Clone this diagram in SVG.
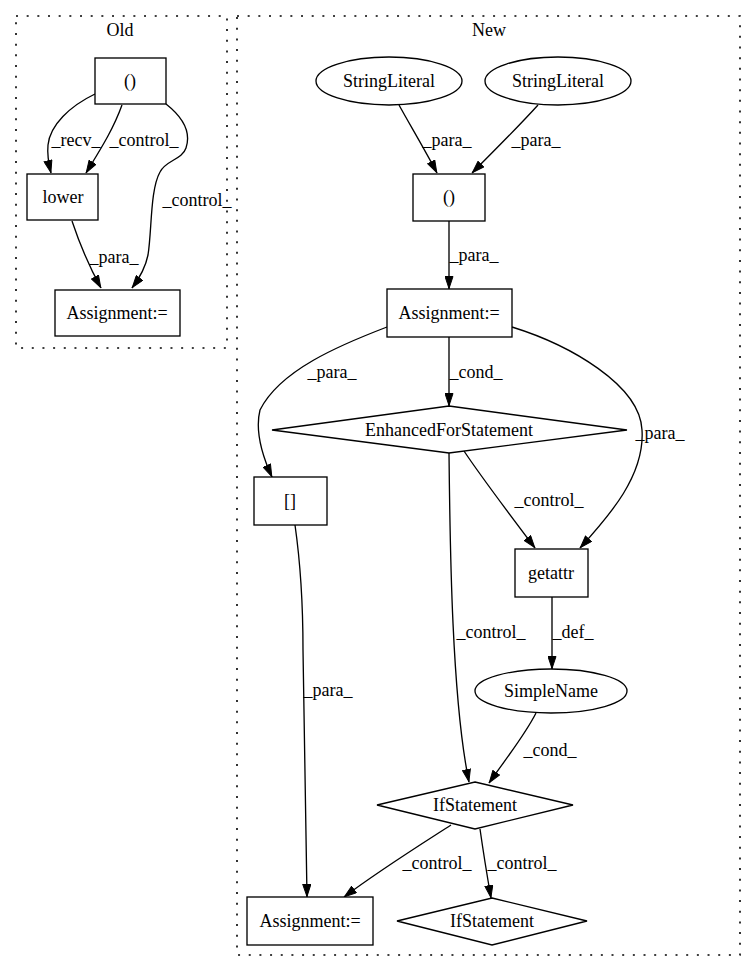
<svg xmlns="http://www.w3.org/2000/svg" width="748" height="972" viewBox="0 0 748 972">
<style>
text{font-family:"Liberation Serif","Times New Roman",serif;font-size:18px;fill:#000;text-anchor:middle}
.n{fill:#fff;stroke:#000;stroke-width:1.33}
.c{fill:none;stroke:#000;stroke-width:1.6;stroke-dasharray:2,8.67}
.e path{fill:none;stroke:#000;stroke-width:1.33;marker-end:url(#a)}
</style>
<defs>
<marker id="a" markerWidth="13" markerHeight="9" refX="13" refY="4.5" orient="auto" markerUnits="userSpaceOnUse"><path d="M0.5,0.5 L12.5,4.5 L0.5,8.5 z" fill="#000" stroke="#000" stroke-width="1"/></marker>
</defs>
<rect width="748" height="972" fill="#fff"/>
<g id="cluster_old"><rect class="c" x="16" y="16" width="211" height="332"/><text x="120" y="36">Old</text></g>
<g id="cluster_new"><rect class="c" x="237" y="16" width="503" height="939"/><text x="489" y="36">New</text></g>
<g class="e" id="edges">
<path d="M95,94 C70,106 50,125 48,145 C47,155 49,165 51,173"/>
<path d="M122,105 C113,130 100,150 86,173"/>
<path d="M166,104 C180,115 192,130 186,148 C182,160 166,160 160,172 C150,190 152,230 148,255 C145,270 138,280 132,288"/>
<path d="M72,221 C80,245 90,268 101,288"/>
<path d="M399,105 C410,125 425,150 437,173"/>
<path d="M538,105 C520,125 495,150 472,173"/>
<path d="M449,221 L449,289"/>
<path d="M387,327 C340,345 280,370 260,410 C255,430 262,455 272,477"/>
<path d="M449,337 L449,406"/>
<path d="M464,451 C480,475 510,515 535,548"/>
<path d="M512,327 C570,345 640,385 642,430 C645,475 610,515 580,548"/>
<path d="M449,453 C450,550 452,700 469,782"/>
<path d="M552,597 L552,669"/>
<path d="M295,525 C300,560 303,600 303,650 L307,897"/>
<path d="M536,713 C525,735 505,760 489,783"/>
<path d="M451,825 C420,845 380,870 344,897"/>
<path d="M480,829 C483,850 487,875 491,898"/>
</g>
<g id="edge_labels">
<text x="76" y="146">_recv_</text>
<text x="144" y="146">_control_</text>
<text x="197" y="206">_control_</text>
<text x="114" y="263">_para_</text>
<text x="447" y="146">_para_</text>
<text x="536" y="146">_para_</text>
<text x="474" y="261">_para_</text>
<text x="332" y="378">_para_</text>
<text x="476" y="378">_cond_</text>
<text x="549" y="506">_control_</text>
<text x="660" y="439">_para_</text>
<text x="491" y="638">_control_</text>
<text x="573" y="638">_def_</text>
<text x="328" y="696">_para_</text>
<text x="550" y="756">_cond_</text>
<text x="437" y="869">_control_</text>
<text x="522" y="869">_control_</text>
</g>
<g id="old_paren"><rect class="n" x="95" y="58" width="71" height="46"/><text x="130" y="87">()</text></g>
<g id="old_lower"><rect class="n" x="27" y="174" width="71" height="46"/><text x="63" y="203">lower</text></g>
<g id="old_assign"><rect class="n" x="55" y="290" width="125" height="46"/><text x="117" y="319">Assignment:=</text></g>
<g id="sl1"><ellipse class="n" cx="389" cy="81" rx="73" ry="24"/><text x="389" y="87">StringLiteral</text></g>
<g id="sl2"><ellipse class="n" cx="558" cy="81" rx="73" ry="24"/><text x="558" y="87">StringLiteral</text></g>
<g id="new_paren"><rect class="n" x="413" y="174" width="72" height="47"/><text x="449" y="203">()</text></g>
<g id="new_assign"><rect class="n" x="387" y="289" width="125" height="48"/><text x="449" y="319">Assignment:=</text></g>
<g id="efs"><polygon class="n" points="449,406 627,430 449,453 272,430"/><text x="449" y="436">EnhancedForStatement</text></g>
<g id="bracket"><rect class="n" x="254" y="477" width="73" height="48"/><text x="290" y="507">[]</text></g>
<g id="getattr"><rect class="n" x="515" y="549" width="73" height="48"/><text x="551" y="579">getattr</text></g>
<g id="simplename"><ellipse class="n" cx="551" cy="691" rx="76" ry="22"/><text x="551" y="697">SimpleName</text></g>
<g id="if1"><polygon class="n" points="475,782 573,805 475,829 377,805"/><text x="475" y="811">IfStatement</text></g>
<g id="if2"><polygon class="n" points="492,898 587,921 492,945 397,921"/><text x="492" y="927">IfStatement</text></g>
<g id="assign_bottom"><rect class="n" x="247" y="897" width="126" height="48"/><text x="310" y="927">Assignment:=</text></g>
</svg>
